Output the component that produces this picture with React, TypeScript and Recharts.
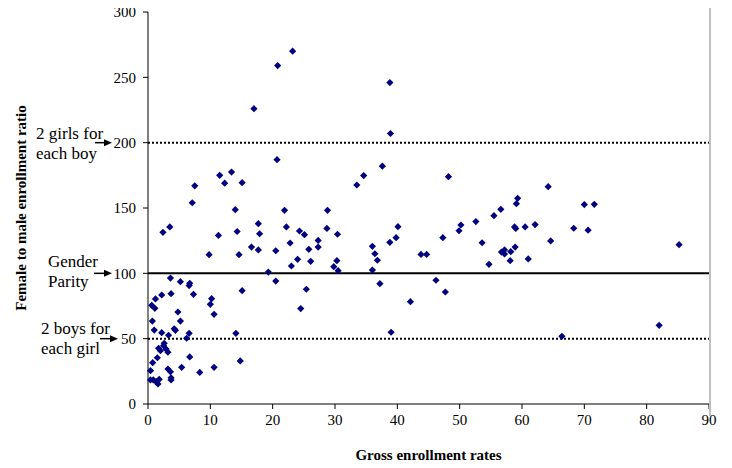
import React from "react";
import { ScatterChart, Scatter, XAxis, YAxis, ReferenceLine } from "recharts";

// Gross enrollment rates (x) and female-to-male enrollment ratio (y)
const enrollmentRates: number[] = [
  23.2, 20.8, 17.0, 38.8, 38.9, 20.7, 37.6,
  11.5, 13.4, 12.3, 15.1, 7.5, 7.1, 14.0, 21.9, 28.8,
  33.5, 34.6, 48.2,
  2.4, 3.5, 11.3, 14.3, 9.8, 14.6,
  3.6, 5.2, 6.7, 6.6,
  17.7, 22.2, 28.7, 17.9, 24.3, 25.1, 30.4, 22.8, 27.3, 16.6, 17.7, 20.5, 25.8, 27.3, 24.0, 26.1, 30.3, 23.0, 29.8, 30.5, 19.3, 20.5, 15.1, 25.4, 24.5,
  40.1, 39.8, 38.8, 36.0, 36.4, 36.8, 36.0, 37.2,
  43.8, 44.7, 47.3, 49.9, 50.2, 52.6, 53.6, 54.7, 46.2, 47.7, 42.1, 39.0,
  64.2, 59.3, 59.1, 56.6, 55.5, 70.0, 71.6, 58.8, 59.0, 60.5, 62.1, 68.3, 70.6, 64.6, 58.9, 58.2, 56.7, 57.2, 57.2, 58.1, 61.0, 85.2, 82.0, 66.4,
  1.2, 2.2, 3.7, 7.3, 0.6, 1.1, 10.2, 10.0, 10.6, 4.8, 0.7, 5.2, 1.0, 2.2, 3.3, 4.2, 4.4, 6.6, 6.2, 14.1,
  2.6, 2.5, 1.7, 2.0, 3.2, 2.9, 1.5, 6.7, 0.75, 0.4, 3.2, 5.4, 3.6, 8.3, 10.6, 14.8,
  0.4, 0.85, 1.3, 1.8, 1.6, 3.7, 3.7,
];

const genderRatios: number[] = [
  270, 259, 226, 246, 207, 187, 182,
  175, 177.5, 169, 169.4, 167, 154, 148.7, 148.2, 148.2,
  167.6, 174.8, 174,
  131.4, 135.5, 129, 132, 114.3, 114.3,
  96.4, 93.6, 92.4, 90.6,
  138, 135.5, 134.4, 130.3, 132.4, 129.6, 129.9, 123.2, 125.2, 120.1, 117.9, 117.3, 118.4, 120.1, 110.7, 109.2, 109.7, 105.6, 105.1, 102, 101, 94.1, 86.7, 87.8, 73,
  135.7, 127.3, 123.7, 120.7, 115, 110, 102.5, 92.1,
  114.5, 114.5, 127.3, 132.6, 137, 139.6, 123.4, 106.9, 94.7, 85.7, 78.3, 54.9,
  166.3, 157.4, 153.3, 149, 144.1, 152.6, 152.8, 135.5, 134.3, 135.5, 137.3, 134.5, 133, 124.8, 120.1, 116.6, 116.3, 117.9, 114.8, 109.7, 111, 121.9, 60.2, 51.8,
  80.4, 83.4, 84.4, 83.9, 75.5, 73.2, 80.6, 76.3, 68.6, 70.4, 63.5, 63.5, 56.6, 54.6, 52.6, 57.6, 56.4, 54.1, 50.3, 54.1,
  46.5, 44.6, 42.6, 40.8, 39.6, 42, 35.4, 36, 31.6, 25.5, 26.8, 28.1, 24.7, 24.2, 28.1, 33,
  18.4, 18.4, 17.1, 18.9, 15.3, 20.1, 18.4,
];

const xTicks: number[] = [0, 10, 20, 30, 40, 50, 60, 70, 80, 90];
const yTicks: number[] = [0, 50, 100, 150, 200, 250, 300];

const noteGirls: string[] = ["2 girls for", "each boy"];
const noteParity: string[] = ["Gender", "Parity"];
const noteBoys: string[] = ["2 boys for", "each girl"];

const xTitle = "Gross enrollment rates";
const yTitle = "Female to male enrollment ratio";

const points = enrollmentRates.map((x, i) => ({ x, y: genderRatios[i] }));

const FONT = "'Liberation Serif', 'Times New Roman', serif";

function Diamond(props: any) {
  const { cx, cy } = props;
  if (cx == null || cy == null) return null;
  const r = 3.6;
  return (
    <polygon
      points={`${cx},${cy - r} ${cx + r},${cy} ${cx},${cy + r} ${cx - r},${cy}`}
      fill="#000080"
    />
  );
}

function Note(props: any) {
  const { viewBox, lines, textDx, arrowStart, arrowEnd, line1, line2 } = props;
  if (!viewBox) return null;
  const x = viewBox.x;
  const y = viewBox.y;
  const tip = x + arrowEnd;
  return (
    <g>
      <text x={x + textDx} y={y + line1} fontFamily={FONT} fontSize={17} fill="#000">
        {lines[0]}
      </text>
      <text x={x + textDx} y={y + line2} fontFamily={FONT} fontSize={17} fill="#000">
        {lines[1]}
      </text>
      <line x1={x + arrowStart} x2={tip - 5} y1={y} y2={y} stroke="#000" strokeWidth={1.5} />
      <polygon points={`${tip},${y} ${tip - 8},${y - 3.5} ${tip - 8},${y + 3.5}`} fill="#000" />
    </g>
  );
}

function YTitle(props: any) {
  const { viewBox } = props;
  if (!viewBox) return null;
  const cx = viewBox.x + viewBox.width - 127;
  const cy = viewBox.y + viewBox.height / 2;
  return (
    <text
      x={cx}
      y={cy}
      transform={`rotate(-90, ${cx}, ${cy})`}
      textAnchor="middle"
      dominantBaseline="central"
      fontFamily={FONT}
      fontSize={15}
      fontWeight="bold"
      fill="#000"
    >
      {yTitle}
    </text>
  );
}

function XTitle(props: any) {
  const { viewBox } = props;
  if (!viewBox) return null;
  const cx = viewBox.x + viewBox.width / 2;
  const cy = viewBox.y + 56;
  return (
    <text x={cx} y={cy} textAnchor="middle" fontFamily={FONT} fontSize={15} fontWeight="bold" fill="#000">
      {xTitle}
    </text>
  );
}

export default function App() {
  const tickStyle = { fontFamily: FONT, fontSize: 15, fill: "#000" };
  return (
    <div style={{ position: "relative", width: 724, height: 468, marginTop: -8 }}>
      <ScatterChart width={724} height={468} margin={{ top: 12, right: 23, bottom: 34, left: 0 }}>
        <XAxis
          type="number"
          dataKey="x"
          domain={[0, 90]}
          ticks={xTicks}
          interval={0}
          height={30}
          tickSize={5}
          tickMargin={5}
          tick={tickStyle}
          axisLine={{ stroke: "#000" }}
          tickLine={{ stroke: "#000" }}
          label={<XTitle />}
        />
        <YAxis
          type="number"
          dataKey="y"
          domain={[0, 300]}
          ticks={yTicks}
          interval={0}
          width={140}
          tickSize={5}
          tickMargin={7}
          tick={tickStyle}
          axisLine={{ stroke: "#000" }}
          tickLine={{ stroke: "#000" }}
          label={<YTitle />}
        />
        <ReferenceLine
          y={200}
          stroke="#000"
          strokeWidth={2}
          strokeDasharray="2 2"
          label={<Note lines={noteGirls} textDx={-112} arrowStart={-53} arrowEnd={-36} line1={-4} line2={16} />}
        />
        <ReferenceLine
          y={100}
          stroke="#000"
          strokeWidth={2}
          label={<Note lines={noteParity} textDx={-100} arrowStart={-54} arrowEnd={-36} line1={-6} line2={14} />}
        />
        <ReferenceLine
          y={50}
          stroke="#000"
          strokeWidth={2}
          strokeDasharray="2 2"
          label={<Note lines={noteBoys} textDx={-107} arrowStart={-48} arrowEnd={-30} line1={-5} line2={15} />}
        />
        <Scatter data={points} shape={<Diamond />} isAnimationActive={false} />
      </ScatterChart>
      <div
        style={{
          position: "absolute",
          left: 701,
          top: 0,
          width: 2,
          height: 416,
          background: "#c0c0c0",
        }}
      />
    </div>
  );
}
